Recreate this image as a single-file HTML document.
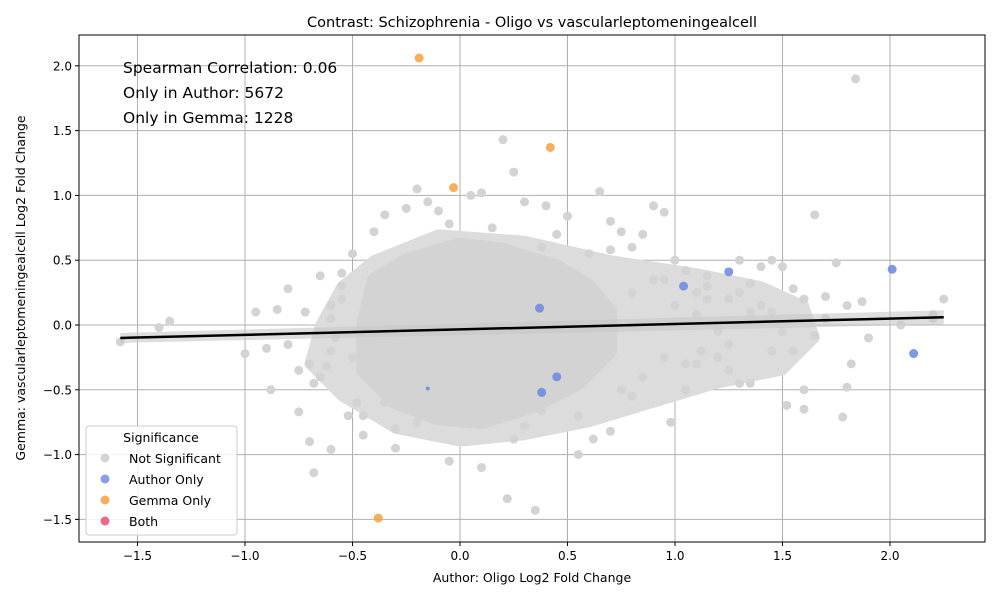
<!DOCTYPE html>
<html><head><meta charset="utf-8"><style>
body{margin:0;background:#fff;font-family:"Liberation Sans","DejaVu Sans",sans-serif;}
svg text{font-family:"DejaVu Sans","Liberation Sans",sans-serif;}
</style></head><body>
<svg id="chart" width="1000" height="600" xmlns="http://www.w3.org/2000/svg">
<rect width="1000" height="600" fill="#fff"/>
<g id="grid"></g>
<g id="cloud"></g>
<g id="fit"></g>
<g id="colored"></g>
<rect x="79" y="35" width="906" height="507" fill="none" stroke="#000" stroke-width="1"/>
<g id="axes"></g>
<text x="532" y="27" text-anchor="middle" font-size="14.5">Contrast: Schizophrenia - Oligo vs vascularleptomeningealcell</text>
<text x="532" y="582" text-anchor="middle" font-size="12.5">Author: Oligo Log2 Fold Change</text>
<text transform="translate(25,288) rotate(-90)" text-anchor="middle" font-size="12.5">Gemma: vascularleptomeningealcell Log2 Fold Change</text>
<text x="123" y="73" font-size="15.5">Spearman Correlation: 0.06</text>
<text x="123" y="98" font-size="15.5">Only in Author: 5672</text>
<text x="123" y="123" font-size="15.5">Only in Gemma: 1228</text>
<g>
<rect x="86" y="426" width="151" height="109" rx="3" fill="#fff" fill-opacity="0.85" stroke="#ccc"/>
<text x="161" y="442" text-anchor="middle" font-size="12.5">Significance</text>
<g><circle cx="105" cy="458" r="4.5" fill="#d3d3d3"/><text x="129" y="463" font-size="12.5">Not Significant</text></g>
<g><circle cx="105" cy="479" r="4.5" fill="#6b87e0" fill-opacity="0.8"/><text x="129" y="484" font-size="12.5">Author Only</text></g>
<g><circle cx="105" cy="500" r="4.5" fill="#f8a042" fill-opacity="0.85"/><text x="129" y="505" font-size="12.5">Gemma Only</text></g>
<g><circle cx="105" cy="521" r="4.5" fill="#e8506e" fill-opacity="0.85"/><text x="129" y="526" font-size="12.5">Both</text></g>
</g>
</svg>
<script>
const xTicks=[-1.5,-1.0,-0.5,0.0,0.5,1.0,1.5,2.0];
const yTicks=[-1.5,-1.0,-0.5,0.0,0.5,1.0,1.5,2.0];
const fitX=[-1.58,2.25];
const fitY=[-0.10,0.06];
const authorX=[1.04,1.25,2.01,2.11,0.45,0.38,0.37,-0.15];
const authorY=[0.30,0.41,0.43,-0.22,-0.40,-0.52,0.13,-0.49];
const gemmaX=[-0.19,0.42,-0.03,-0.38];
const gemmaY=[2.06,1.37,1.06,-1.49];
const coreX=[-0.45,-0.4,-0.25,0,0.2,0.45,0.6,0.7,0.7,0.55,0.35,0.1,-0.1,-0.3,-0.45];
const coreY=[0.0,0.35,0.5,0.62,0.58,0.45,0.3,0.1,-0.2,-0.45,-0.62,-0.75,-0.72,-0.6,-0.35];
const midX=[-0.65,-0.55,-0.4,-0.1,0.3,0.7,1.1,1.4,1.6,1.65,1.5,1.2,0.9,0.6,0.3,0,-0.3,-0.55,-0.7];
const midY=[0.0,0.3,0.5,0.7,0.65,0.5,0.4,0.3,0.15,-0.1,-0.35,-0.45,-0.6,-0.75,-0.85,-0.9,-0.8,-0.55,-0.3];
const nsX=[1.84,-1.58,-1.35,-1.4,-1.0,-0.9,-0.95,-0.85,-0.8,-0.75,-0.7,-0.68,-0.65,-0.6,-0.55,-0.5,-0.52,-0.48,-0.7,-0.6,-0.55,-0.45,-0.4,-0.35,-0.3,-0.25,-0.2,-0.15,-0.1,-0.05,0.05,0.1,0.2,0.22,0.25,0.3,0.35,0.38,0.4,0.5,0.55,0.62,0.65,0.7,0.75,0.8,0.85,0.9,0.95,1.0,1.05,1.1,1.15,1.2,1.3,1.35,1.4,1.45,1.5,1.55,1.6,1.65,1.7,1.75,1.8,1.82,1.87,2.2,2.25,1.65,1.45,1.25,1.05,0.98,1.12,1.3,1.52,1.6,1.78,1.2,1.1,0.7,0.3,0.25,0.1,-0.05,0.38,0.17,-0.62,-0.88,-0.45,-0.3,0.55,0.7,1.4,1.6,1.8,0.9,1.0,1.15,1.35,-0.75,-0.2,0.15,0.45,0.6,0.8,1.25,1.45,-0.35,-0.55,-0.65,-0.8,-0.72,-0.6,-0.5,0.75,0.85,0.95,1.05,1.15,1.25,1.35,1.5,1.7,1.9,2.05,2.2,0.8,0.95,1.1,1.3,1.55,-0.6,-0.68,-0.58];
const nsY=[1.9,-0.13,0.03,-0.02,-0.22,-0.18,0.1,0.12,0.28,-0.67,-0.9,-1.14,0.38,-0.96,0.2,0.55,-0.7,-0.6,-0.3,0.05,0.4,-0.85,0.72,0.85,-0.95,0.9,1.05,0.95,0.88,0.78,1.0,1.02,1.43,-1.34,1.18,0.95,-1.43,0.6,0.92,0.84,-1.0,-0.88,1.03,0.8,0.72,0.6,0.7,0.92,0.87,0.5,0.42,0.25,0.3,-0.05,0.5,-0.45,0.45,0.5,0.45,0.28,0.2,0.85,0.22,0.48,0.15,-0.3,0.18,0.08,0.2,-0.08,0.1,-0.35,-0.5,-0.75,-0.2,-0.45,-0.62,-0.5,-0.71,-0.25,0.08,-0.82,-0.78,-0.88,-1.1,-1.05,-0.66,-0.7,-0.32,-0.5,-0.7,-0.8,-0.7,0.58,0.15,-0.65,-0.48,0.35,0.15,0.38,0.32,-0.35,-0.75,0.75,0.7,0.55,-0.55,0.2,-0.2,-0.6,0.3,-0.4,-0.15,0.1,-0.2,-0.25,-0.5,-0.4,0.35,-0.3,0.2,-0.15,0.1,-0.05,0.05,-0.1,0.0,0.05,0.25,-0.25,-0.3,0.25,-0.2,0.15,-0.45,-0.1];
const X0=79,X1=985,Y0=35,Y1=542;
const sx=v=>460+v*215, sy=v=>325-v*129.6;
const NS="http://www.w3.org/2000/svg";
function mk(tag,attrs,parent){const e=document.createElementNS(NS,tag);for(const k in attrs)e.setAttribute(k,attrs[k]);parent.appendChild(e);return e;}
const grid=document.getElementById('grid'),axes=document.getElementById('axes');
xTicks.forEach(t=>{const x=sx(t);
 const l=mk('line',{x1:x,x2:x,y1:Y0,y2:Y1,stroke:'#b0b0b0','stroke-width':1},grid);
 
 
 mk('line',{x1:x,x2:x,y1:Y1,y2:Y1+4,stroke:'#000'},axes);
 const tx=mk('text',{x:x,y:Y1+18,'text-anchor':'middle','font-size':12},axes);tx.textContent=(t<0?'\u2212':'')+Math.abs(t).toFixed(1);
 
 });
yTicks.forEach(t=>{const y=sy(t);
 const l=mk('line',{x1:X0,x2:X1,y1:y,y2:y,stroke:'#b0b0b0','stroke-width':1},grid);
 
 
 mk('line',{x1:X0-4,x2:X0,y1:y,y2:y,stroke:'#000'},axes);
 const tx=mk('text',{x:X0-7,y:y+4.5,'text-anchor':'end','font-size':12},axes);tx.textContent=(t<0?'\u2212':'')+Math.abs(t).toFixed(1);
 
 });
const cloud=document.getElementById('cloud');
const mid=mk('polygon',{points:midX.map((v,i)=>sx(v)+','+sy(midY[i])).join(' '),fill:'#dcdcdc',stroke:'#dcdcdc','stroke-width':10,'stroke-linejoin':'round'},cloud);


const core=mk('polygon',{points:coreX.map((v,i)=>sx(v)+','+sy(coreY[i])).join(' '),fill:'#d3d3d3',stroke:'#d3d3d3','stroke-width':14,'stroke-linejoin':'round'},cloud);


nsX.forEach((v,i)=>{const c=mk('circle',{cx:sx(v),cy:sy(nsY[i]),r:4.5,fill:'#d3d3d3'},cloud);
 
 });
const fit=document.getElementById('fit');
const band=mk('polygon',{points:[sx(fitX[0])+','+(sy(fitY[0])-5),sx(fitX[1])+','+(sy(fitY[1])-7),sx(fitX[1])+','+(sy(fitY[1])+7),sx(fitX[0])+','+(sy(fitY[0])+5)].join(' '),fill:'#c8c8c8','fill-opacity':0.6},fit);


const ln=mk('line',{x1:sx(fitX[0]),y1:sy(fitY[0]),x2:sx(fitX[1]),y2:sy(fitY[1]),stroke:'#000','stroke-width':2.5},fit);


const col=document.getElementById('colored');
authorX.forEach((v,i)=>{const c=mk('circle',{cx:sx(v),cy:sy(authorY[i]),r:i==7?2:4.5,fill:'#6b87e0','fill-opacity':0.85},col);
 
 });
gemmaX.forEach((v,i)=>{const c=mk('circle',{cx:sx(v),cy:sy(gemmaY[i]),r:4.5,fill:'#f8a042','fill-opacity':0.85},col);
 
 });
</script>
</body></html>
